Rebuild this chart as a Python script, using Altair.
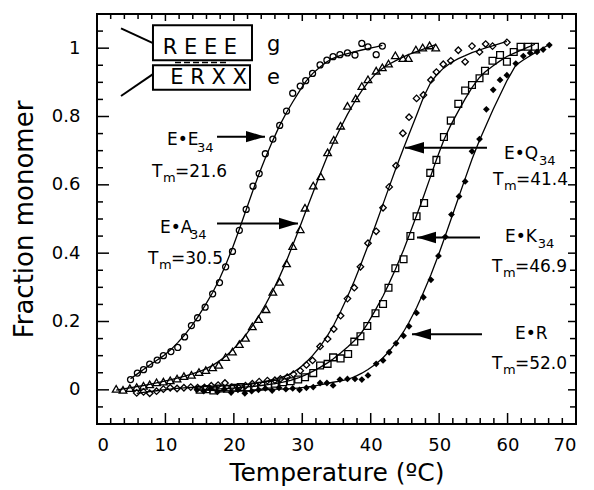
import altair as alt
import pandas as pd

FONT = "DejaVu Sans"

# Thermal melts: temperature (°C) vs fraction monomer for each heterodimer
ee_t = [4.9, 5.9, 6.8, 7.7, 8.8, 9.7, 10.8, 11.8, 12.8, 13.8, 14.7, 15.8, 16.9, 17.9, 18.8,
        19.8, 20.8, 21.8, 22.8, 23.7, 24.6, 25.7, 26.7, 27.7, 28.6, 29.7, 30.5, 31.5, 32.6,
        33.6, 34.5, 35.5, 36.6, 37.7, 38.7, 39.6, 40.8, 41.7]
ee_f = [0.030, 0.049, 0.059, 0.075, 0.087, 0.100, 0.112, 0.124, 0.155, 0.188, 0.211, 0.242,
        0.281, 0.314, 0.360, 0.405, 0.467, 0.528, 0.596, 0.633, 0.691, 0.734, 0.774, 0.816,
        0.868, 0.889, 0.905, 0.926, 0.951, 0.965, 0.975, 0.981, 0.986, 0.980, 1.014, 1.004,
        0.981, 1.006]

ea_t = [2.8, 3.8, 4.8, 5.8, 6.8, 7.7, 8.7, 9.7, 10.7, 11.7, 12.7, 13.8, 14.9, 15.9, 16.9,
        17.8, 18.8, 19.8, 20.8, 21.7, 22.7, 23.6, 24.7, 25.7, 26.7, 27.7, 28.6, 29.7, 30.4,
        31.6, 32.7, 33.7, 34.6, 35.6, 36.6, 37.8, 38.7, 39.6, 40.8, 41.7, 42.6, 43.6, 44.7,
        45.5, 46.6, 47.6, 48.6, 49.5]
ea_f = [0.003, 0.000, 0.005, 0.008, 0.012, 0.016, 0.022, 0.024, 0.028, 0.033, 0.040, 0.044,
        0.052, 0.058, 0.066, 0.073, 0.096, 0.112, 0.134, 0.152, 0.186, 0.207, 0.236, 0.287,
        0.316, 0.370, 0.421, 0.470, 0.533, 0.598, 0.625, 0.695, 0.732, 0.773, 0.831, 0.853,
        0.889, 0.909, 0.934, 0.944, 0.955, 0.979, 0.971, 0.971, 0.996, 1.002, 1.008, 1.002]

eq_t = [5.8, 6.8, 7.7, 8.7, 9.7, 10.7, 11.7, 12.7, 13.7, 14.7, 15.7, 16.7, 17.7, 18.7, 19.7,
        20.7, 21.7, 22.7, 23.7, 24.9, 26.0, 26.8, 27.8, 28.7, 29.7, 30.6, 31.5, 32.6, 33.7,
        34.6, 35.6, 36.6, 37.6, 38.5, 39.6, 40.8, 41.8, 42.7, 43.7, 44.7, 45.6, 46.7, 47.7,
        48.8, 49.6, 50.6, 51.7, 52.8, 53.8, 54.8, 55.9, 56.8, 57.8, 59.9]
eq_f = [-0.009, -0.006, -0.010, -0.004, 0.002, 0.006, 0.004, 0.006, 0.008, 0.006, 0.007,
        0.012, 0.014, 0.020, 0.008, 0.006, 0.012, 0.018, 0.024, 0.027, 0.028, 0.032, 0.037,
        0.046, 0.056, 0.073, 0.086, 0.127, 0.149, 0.178, 0.217, 0.267, 0.299, 0.360, 0.429,
        0.464, 0.533, 0.594, 0.656, 0.751, 0.798, 0.853, 0.863, 0.907, 0.930, 0.953, 0.963,
        0.994, 0.960, 1.006, 0.989, 1.012, 1.006, 1.017]

ek_t = [15.0, 16.0, 17.0, 18.0, 19.0, 20.0, 21.0, 22.0, 23.0, 24.0, 25.0, 26.0, 27.2, 28.3,
        29.4, 30.4, 31.6, 32.6, 33.7, 34.5, 35.6, 36.7, 37.6, 38.5, 39.5, 40.7, 41.8, 42.6,
        43.6, 44.8, 45.8, 46.7, 47.8, 48.7, 49.6, 50.7, 51.7, 52.8, 53.8, 54.8, 55.9, 56.7,
        57.8, 58.9, 59.9, 60.9, 61.9, 63.0, 64.0]
ek_f = [0.000, 0.002, -0.002, 0.004, 0.003, 0.006, 0.008, 0.006, 0.010, 0.012, 0.015, 0.018,
        0.022, 0.025, 0.030, 0.037, 0.049, 0.071, 0.076, 0.095, 0.092, 0.105, 0.141, 0.157,
        0.187, 0.224, 0.251, 0.299, 0.356, 0.382, 0.450, 0.508, 0.547, 0.635, 0.673, 0.740,
        0.788, 0.837, 0.876, 0.892, 0.912, 0.934, 0.963, 0.980, 0.960, 0.989, 1.004, 1.004,
        1.004]

er_t = [14.6, 15.6, 16.6, 17.6, 18.6, 19.6, 20.6, 21.6, 22.6, 23.6, 24.6, 25.6, 26.6, 27.6,
        28.6, 29.6, 30.6, 31.6, 32.6, 33.6, 34.5, 35.5, 36.6, 37.7, 38.7, 39.6, 40.8, 41.8,
        42.7, 43.7, 44.8, 45.6, 46.7, 47.7, 48.8, 49.9, 50.9, 51.8, 52.9, 53.8, 54.8, 55.9,
        56.9, 57.9, 58.9, 59.9, 61.2, 62.3, 63.3, 64.3, 65.2, 66.1]
er_f = [0.000, -0.004, 0.004, -0.006, 0.002, -0.008, 0.000, -0.010, -0.004, 0.000, 0.004,
        -0.002, 0.006, 0.002, 0.004, 0.000, 0.006, 0.008, 0.020, 0.020, 0.013, 0.030, 0.032,
        0.032, 0.030, 0.042, 0.076, 0.086, 0.110, 0.136, 0.158, 0.186, 0.225, 0.271, 0.322,
        0.392, 0.448, 0.513, 0.566, 0.610, 0.698, 0.734, 0.821, 0.878, 0.907, 0.921, 0.955,
        0.977, 0.986, 0.989, 0.996, 1.009]

series_names = ["E•E34", "E•A34", "E•Q34", "E•K34", "E•R"]

# Axis labels and tick positions
x_labels = [0, 10, 20, 30, 40, 50, 60, 70]
x_minor = [v for v in range(0, 71, 2) if v % 10]
y_labels = [0, 0.2, 0.4, 0.6, 0.8, 1.0]
y_minor = [-0.05, 0.05, 0.1, 0.15, 0.25, 0.3, 0.35, 0.45, 0.5, 0.55, 0.65, 0.7, 0.75,
           0.85, 0.9, 0.95, 1.05]

# Annotation text pieces (subscripts drawn as separate, smaller text)
note_text = ["E•E", "34", "T", "m", "=21.6",
             "E•A", "34", "T", "m", "=30.5",
             "E•Q", "34", "T", "m", "=41.4",
             "E•K", "34", "T", "m", "=46.9",
             "E•R", "T", "m", "=52.0",
             "g", "e"]
note_t = [10.23, 14.61, 8.04, 9.65, 11.40,
          9.21, 13.59, 7.45, 9.06, 10.81,
          59.48, 64.60, 57.87, 59.48, 61.23,
          59.62, 64.40, 57.72, 59.33, 61.08,
          61.08, 57.72, 59.33, 61.08,
          24.84, 24.84]
note_f = [0.732, 0.708, 0.638, 0.621, 0.638,
          0.475, 0.452, 0.382, 0.364, 0.382,
          0.691, 0.671, 0.615, 0.598, 0.615,
          0.446, 0.426, 0.359, 0.341, 0.359,
          0.163, 0.076, 0.058, 0.076,
          1.008, 0.9125]
note_size = [17, 13, 17, 13, 17,
             17, 13, 17, 13, 17,
             17, 13, 17, 13, 17,
             17, 13, 17, 13, 17,
             17, 17, 13, 17,
             21, 21]

# Arrows: start and tip temperature, level
arrow_start = [17.54, 17.54, 56.99, 55.97, 56.26]
arrow_tip = [24.55, 29.37, 45.01, 46.76, 46.03]
arrow_f = [0.741, 0.487, 0.7085, 0.446, 0.163]

# Heptad inset: boxes, leader lines and the interhelical pairing marks
box_t = [8.18, 8.18]
box_t2 = [22.65, 22.36]
box_f = [0.965, 0.878]
box_f2 = [1.067, 0.950]
box_text = ["R E E E", "E R X X"]
box_text_t = [9.6, 21.9]
box_text_f = [1.0015, 0.914]
box_text_align = ["left", "right"]
lead_t = [3.51, 3.51]
lead_t2 = [8.18, 8.18]
lead_f = [1.058, 0.860]
lead_f2 = [1.015, 0.924]
pair_t = [11.4]
pair_t2 = [19.3]
pair_f = [0.958]

frames = []
for name, t, f in zip(series_names, [ee_t, ea_t, eq_t, ek_t, er_t],
                      [ee_f, ea_f, eq_f, ek_f, er_f]):
    frames.append(pd.DataFrame({"series": name, "temp": t, "frac": f}))
melt = pd.concat(frames, ignore_index=True)

x_scale = alt.Scale(domain=[0, 70], nice=False, zero=False)
y_scale = alt.Scale(domain=[-0.1, 1.1], nice=False, zero=False)
x_axis = alt.Axis(
    values=x_labels, ticks=False, tickSize=0, domain=False, grid=False,
    labelFont=FONT, labelFontSize=18, labelColor="black", labelPadding=12,
    title="Temperature (ºC)", titleFont=FONT, titleFontSize=25,
    titleFontWeight="normal", titleColor="black", titlePadding=6)
y_axis = alt.Axis(
    values=y_labels, format="~g", ticks=False, tickSize=0, domain=False, grid=False,
    labelFont=FONT, labelFontSize=18, labelColor="black", labelPadding=17,
    title="Fraction  monomer", titleFont=FONT, titleFontSize=26,
    titleFontWeight="normal", titleColor="black", titlePadding=14)
X = alt.X("temp:Q", scale=x_scale, axis=x_axis)
Y = alt.Y("frac:Q", scale=y_scale, axis=y_axis)

# Fitted melting curves
curves = alt.Chart(melt).transform_loess(
    "temp", "frac", groupby=["series"], bandwidth=0.22
).mark_line(color="black", strokeWidth=1.3).encode(x=X, y=Y, detail="series:N")

marker_style = {
    "E•E34": dict(shape="circle", filled=False, size=36),
    "E•A34": dict(shape="triangle-up", filled=False, size=58),
    "E•Q34": dict(shape="diamond", filled=False, size=42),
    "E•K34": dict(shape="square", filled=False, size=46),
    "E•R": dict(shape="diamond", filled=True, size=46),
}
points = [
    alt.Chart(melt).transform_filter(alt.datum.series == name).mark_point(
        color="black", strokeWidth=1.3, opacity=1, **style
    ).encode(x=X, y=Y)
    for name, style in marker_style.items()
]


# Inward tick marks on all four sides
def xticks(values, y0, y1):
    return alt.Chart(pd.DataFrame({"temp": values})).mark_rule(
        color="black", strokeWidth=1.5).encode(x=X, y=alt.value(y0), y2=alt.value(y1))


def yticks(values, x0, x1):
    return alt.Chart(pd.DataFrame({"frac": values})).mark_rule(
        color="black", strokeWidth=1.5).encode(y=Y, x=alt.value(x0), x2=alt.value(x1))


ticks = [
    xticks(x_labels, 410, 399), xticks(x_minor, 410, 404),
    xticks(x_labels, 0, 7), xticks(x_minor, 0, 5),
    yticks(y_labels, 0, 12), yticks(y_minor, 0, 6),
    yticks(y_labels, 479, 471), yticks(y_minor, 479, 473),
]

notes = alt.Chart(pd.DataFrame({
    "temp": note_t, "frac": note_f, "text": note_text, "size": note_size
})).mark_text(align="left", baseline="middle", font=FONT, color="black").encode(
    x=X, y=Y, text="text:N", size=alt.Size("size:Q", scale=None))

arrows = pd.DataFrame({"start": arrow_start, "temp": arrow_tip, "frac": arrow_f})
shafts = alt.Chart(arrows).mark_rule(color="black", strokeWidth=2).encode(
    x=alt.X("start:Q", scale=x_scale, axis=x_axis), x2="temp:Q", y=Y)
heads_right = alt.Chart(arrows).transform_filter("datum.temp > datum.start").mark_point(
    shape="M0,0L-1,-0.3L-1,0.3Z", filled=True, size=1444, color="black", opacity=1
).encode(x=X, y=Y)
heads_left = alt.Chart(arrows).transform_filter("datum.temp < datum.start").mark_point(
    shape="M0,0L1,-0.3L1,0.3Z", filled=True, size=1444, color="black", opacity=1
).encode(x=X, y=Y)

boxes = alt.Chart(pd.DataFrame({
    "temp": box_t, "temp2": box_t2, "frac": box_f, "frac2": box_f2
})).mark_rect(fill="white", stroke="black", strokeWidth=2).encode(
    x=X, x2="temp2:Q", y=Y, y2="frac2:Q")
box_df = pd.DataFrame({"temp": box_text_t, "frac": box_text_f,
                       "text": box_text, "align": box_text_align})
box_labels = [
    alt.Chart(box_df).transform_filter(alt.datum.align == a).mark_text(
        align=a, baseline="middle", font=FONT, fontSize=21, color="black"
    ).encode(x=X, y=Y, text="text:N")
    for a in ["left", "right"]
]
leads = alt.Chart(pd.DataFrame({
    "temp": lead_t, "temp2": lead_t2, "frac": lead_f, "frac2": lead_f2
})).mark_rule(color="black", strokeWidth=2).encode(x=X, x2="temp2:Q", y=Y, y2="frac2:Q")
pairs = alt.Chart(pd.DataFrame({
    "temp": pair_t, "temp2": pair_t2, "frac": pair_f
})).mark_rule(color="black", strokeWidth=1.5, strokeDash=[6, 3]).encode(
    x=X, x2="temp2:Q", y=Y)

chart = alt.layer(
    curves, *points, *ticks, shafts, heads_right, heads_left,
    leads, pairs, boxes, *box_labels, notes
).properties(
    width=479, height=410,
    autosize=alt.AutoSizeParams(type="none"),
    padding={"left": 97, "top": 14, "right": 18, "bottom": 66},
    background="white",
).configure_view(stroke="black", strokeWidth=2)

chart.save("out.html", embed_options={"renderer": "svg", "actions": False})
